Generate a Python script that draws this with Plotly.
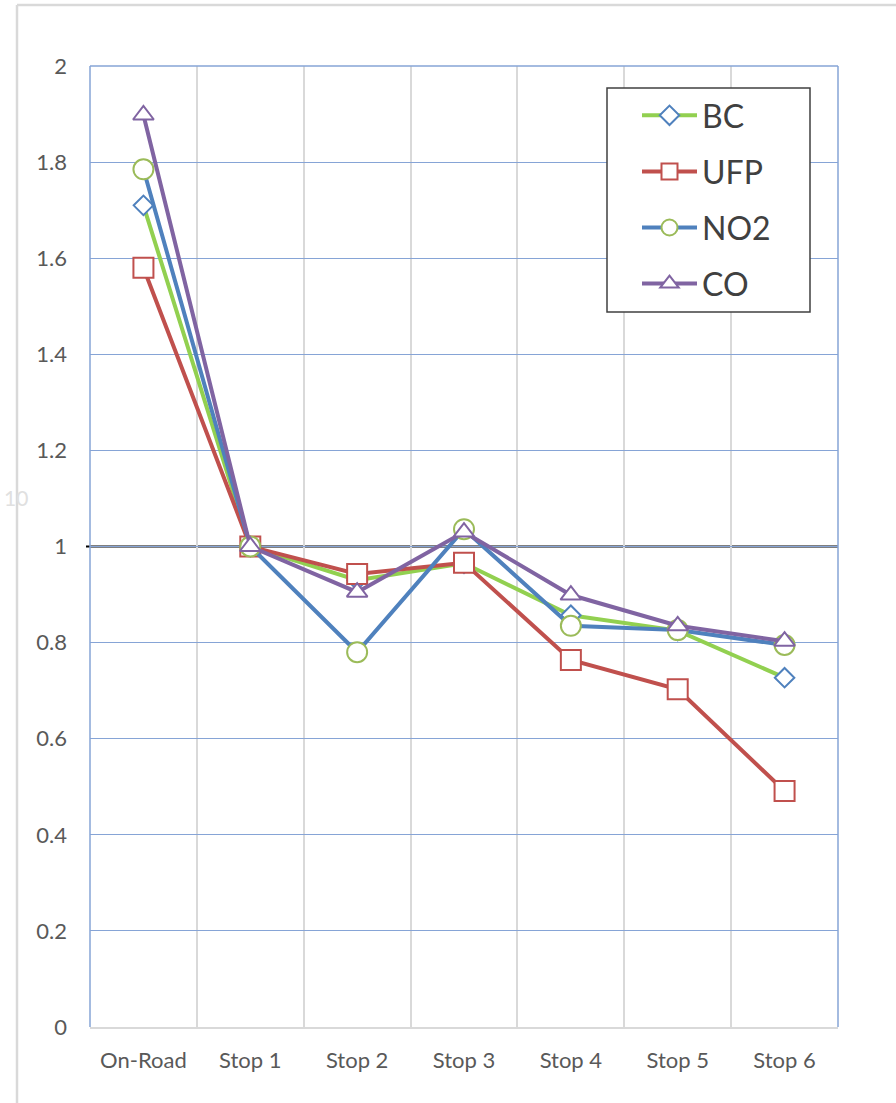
import plotly.graph_objects as go

# Categories along the x axis
sites = ["On-Road", "Stop 1", "Stop 2", "Stop 3", "Stop 4", "Stop 5", "Stop 6"]

# Concentration ratios relative to Stop 1
bc = [1.71, 1.00, 0.93, 0.965, 0.857, 0.825, 0.727]
ufp = [1.58, 1.00, 0.943, 0.966, 0.764, 0.703, 0.491]
no2 = [1.785, 1.00, 0.78, 1.036, 0.835, 0.826, 0.795]
co = [1.898, 1.00, 0.905, 1.03, 0.899, 0.835, 0.803]

W, H = 896, 1103
L, R, T, B = 90, 58, 66, 76
PW, PH = W - L - R, H - T - B


def px(x):
    return (x - L) / PW


def py(y):
    return (H - B - y) / PH


series = [
    ("BC", bc, "#92D050", "diamond", "#4F81BD", 15),
    ("UFP", ufp, "#C0504D", "square", "#C0504D", 20),
    ("NO2", no2, "#4F81BD", "circle", "#9BBB59", 20),
    ("CO", co, "#8064A2", "triangle-up", "#8064A2", 18),
]

fig = go.Figure()
for name, vals, lcol, sym, mcol, msize in series:
    fig.add_trace(go.Scatter(
        x=sites, y=vals, name=name, mode="lines+markers",
        legendgroup=name,
        line=dict(color=lcol, width=4),
        marker=dict(symbol=sym, size=msize, color="white",
                    line=dict(color=mcol, width=2)),
    ))

font_family = "Lato, 'Open Sans', sans-serif"

fig.update_layout(
    width=W, height=H, autosize=False,
    margin=dict(l=L, r=R, t=T, b=B, pad=0),
    paper_bgcolor="white", plot_bgcolor="white",
    font=dict(family=font_family, color="#595959"),
    showlegend=True,
    legend=dict(
        x=px(637), y=py(88), xanchor="left", yanchor="top",
        borderwidth=0, bgcolor="rgba(0,0,0,0)",
        font=dict(size=32, color="#404040", family=font_family),
        traceorder="grouped", tracegroupgap=11.5,
        itemwidth=55,
    ),
    xaxis=dict(
        type="category", range=[-0.5, 6.5], tickson="boundaries",
        showgrid=True, gridcolor="#D9D9D9", gridwidth=1.5,
        showline=True, linecolor="#D9D9D9", linewidth=2,
        ticks="", ticklabelstandoff=13,
        tickfont=dict(size=22, color="#595959"),
        zeroline=False, fixedrange=True,
    ),
    yaxis=dict(
        range=[0, 2], dtick=0.2, tick0=0,
        showgrid=True, gridcolor="#86A4D6", gridwidth=1.3,
        showline=False, zeroline=False, ticks="",
        ticklabelstandoff=22,
        tickfont=dict(size=22, color="#595959"),
        fixedrange=True,
    ),
)

shapes = []
# blue plot border: left, top, right
shapes.append(dict(type="line", xref="paper", yref="paper", x0=0, x1=0, y0=0, y1=1,
                   line=dict(color="#86A4D6", width=1.5)))
shapes.append(dict(type="line", xref="paper", yref="paper", x0=0, x1=1, y0=1, y1=1,
                   line=dict(color="#86A4D6", width=1.5)))
shapes.append(dict(type="line", xref="paper", yref="paper", x0=1, x1=1, y0=0, y1=1,
                   line=dict(color="#86A4D6", width=1.5)))
# reference line at ratio 1, above the grid but under the series
shapes.append(dict(type="line", xref="paper", yref="y", x0=px(86), x1=1, y0=1, y1=1,
                   line=dict(color="black", width=2), layer="between"))
# legend frame
shapes.append(dict(type="rect", xref="paper", yref="paper",
                   x0=px(607), x1=px(810), y0=py(312), y1=py(88),
                   fillcolor="white", line=dict(color="#404040", width=1.5),
                   layer="above"))
# outer chart frame
shapes.append(dict(type="line", xref="paper", yref="paper", x0=px(17), x1=px(17),
                   y0=py(H), y1=py(5), line=dict(color="#D9D9D9", width=2.5)))
shapes.append(dict(type="line", xref="paper", yref="paper", x0=px(17), x1=px(W),
                   y0=py(5), y1=py(5), line=dict(color="#D9D9D9", width=2.5)))
fig.update_layout(shapes=shapes)

fig.add_annotation(
    xref="paper", yref="paper", x=px(16), y=py(497), xanchor="center", yanchor="middle",
    text="10", showarrow=False,
    font=dict(size=21, color="#E0E0E0", family=font_family),
)

fig.write_html("out.html")
